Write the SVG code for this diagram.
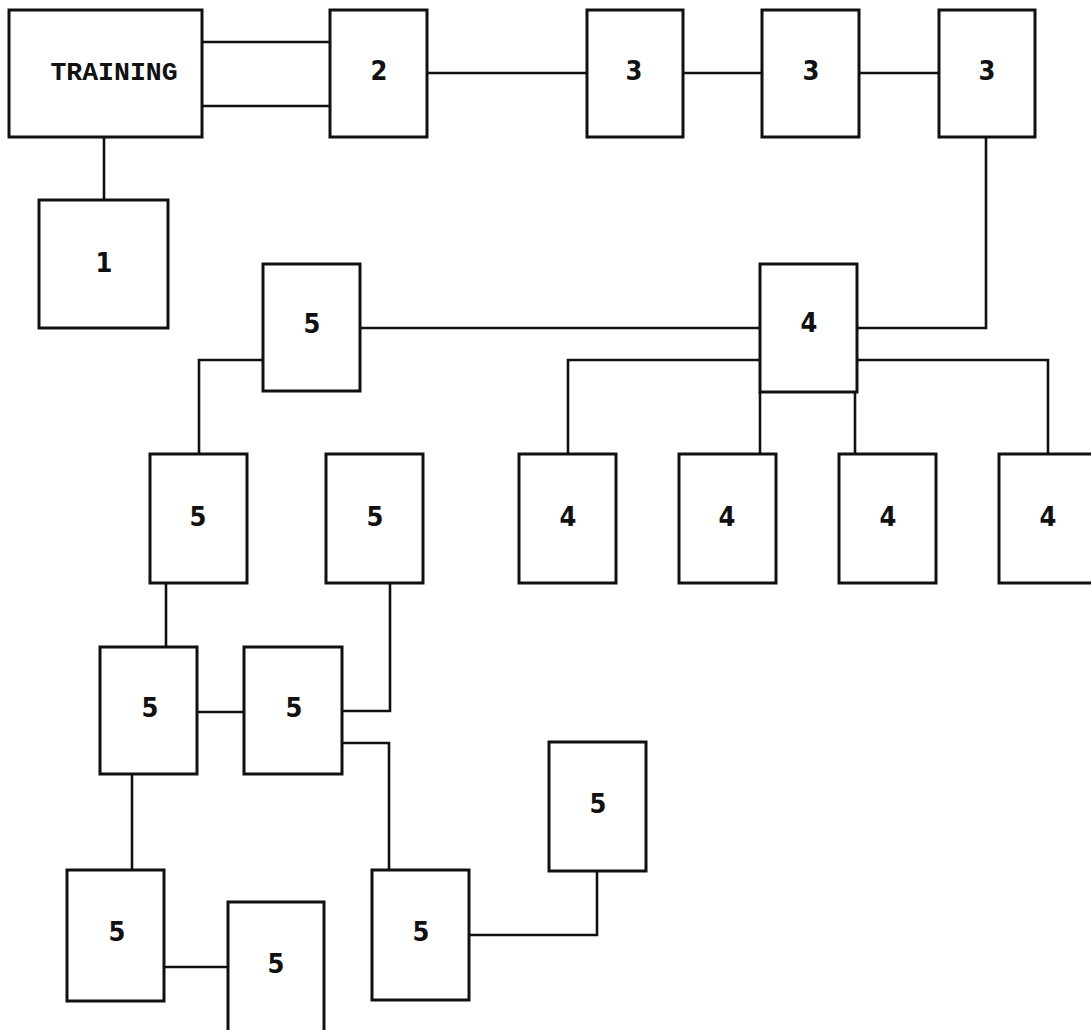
<svg xmlns="http://www.w3.org/2000/svg" width="1091" height="1030" viewBox="0 0 1091 1030">
<style>
.box{fill:#fff;stroke:#111;stroke-width:3}
.ln{fill:none;stroke:#111;stroke-width:2.6;stroke-linejoin:miter}
.num{font-family:"DejaVu Sans Condensed","DejaVu Sans","Liberation Sans",sans-serif;font-size:27px;font-weight:bold;fill:#111;text-anchor:middle}
.ttl{font-family:"Liberation Mono","DejaVu Sans Mono",monospace;font-size:26.5px;font-weight:bold;fill:#111;text-anchor:middle}
</style>
<rect width="1091" height="1030" fill="#fff"/>
<g id="connectors">
<path class="ln" d="M202 42H330M202 106H330"/>
<path class="ln" d="M104 137V200"/>
<path class="ln" d="M427 73H587"/>
<path class="ln" d="M683 73H762"/>
<path class="ln" d="M859 73H939"/>
<path class="ln" d="M986 137V328H857"/>
<path class="ln" d="M360 328H760"/>
<path class="ln" d="M760 360H568V454"/>
<path class="ln" d="M857 360H1048V454"/>
<path class="ln" d="M760 392V454"/>
<path class="ln" d="M855 392V454"/>
<path class="ln" d="M263 360H199V454"/>
<path class="ln" d="M166 583V647"/>
<path class="ln" d="M390 583V711H342"/>
<path class="ln" d="M197 712H244"/>
<path class="ln" d="M342 743H389V870"/>
<path class="ln" d="M132 774V870"/>
<path class="ln" d="M164 967H228"/>
<path class="ln" d="M469 935H597V871"/>
</g>
<g id="n-training"><rect class="box" x="9" y="10" width="193" height="127"/><text class="ttl" x="114" y="80">TRAINING</text></g>
<g id="n-2"><rect class="box" x="330" y="10" width="97" height="127"/><text class="num" x="379" y="80">2</text></g>
<g id="n-3a"><rect class="box" x="587" y="10" width="96" height="127"/><text class="num" x="634" y="80">3</text></g>
<g id="n-3b"><rect class="box" x="762" y="10" width="97" height="127"/><text class="num" x="811" y="80">3</text></g>
<g id="n-3c"><rect class="box" x="939" y="10" width="96" height="127"/><text class="num" x="987" y="80">3</text></g>
<g id="n-1"><rect class="box" x="39" y="200" width="129" height="128"/><text class="num" x="104" y="272">1</text></g>
<g id="n-5top"><rect class="box" x="263" y="264" width="97" height="127"/><text class="num" x="312" y="333">5</text></g>
<g id="n-4main"><rect class="box" x="760" y="264" width="97" height="128"/><text class="num" x="809" y="332">4</text></g>
<g id="n-5b"><rect class="box" x="150" y="454" width="97" height="129"/><text class="num" x="198" y="526">5</text></g>
<g id="n-5c"><rect class="box" x="326" y="454" width="97" height="129"/><text class="num" x="375" y="526">5</text></g>
<g id="n-4a"><rect class="box" x="519" y="454" width="97" height="129"/><text class="num" x="568" y="526">4</text></g>
<g id="n-4b"><rect class="box" x="679" y="454" width="97" height="129"/><text class="num" x="727" y="526">4</text></g>
<g id="n-4c"><rect class="box" x="839" y="454" width="97" height="129"/><text class="num" x="888" y="526">4</text></g>
<g id="n-4d"><rect class="box" x="999" y="454" width="97" height="129"/><text class="num" x="1048" y="526">4</text></g>
<g id="n-5d"><rect class="box" x="100" y="647" width="97" height="127"/><text class="num" x="150" y="717">5</text></g>
<g id="n-5e"><rect class="box" x="244" y="647" width="98" height="127"/><text class="num" x="294" y="717">5</text></g>
<g id="n-5i"><rect class="box" x="549" y="742" width="97" height="129"/><text class="num" x="598" y="813">5</text></g>
<g id="n-5f"><rect class="box" x="67" y="870" width="97" height="131"/><text class="num" x="117" y="941">5</text></g>
<g id="n-5g"><rect class="box" x="372" y="870" width="97" height="130"/><text class="num" x="421" y="941">5</text></g>
<g id="n-5h"><rect class="box" x="228" y="902" width="96" height="135"/><text class="num" x="276" y="973">5</text></g>
</svg>
